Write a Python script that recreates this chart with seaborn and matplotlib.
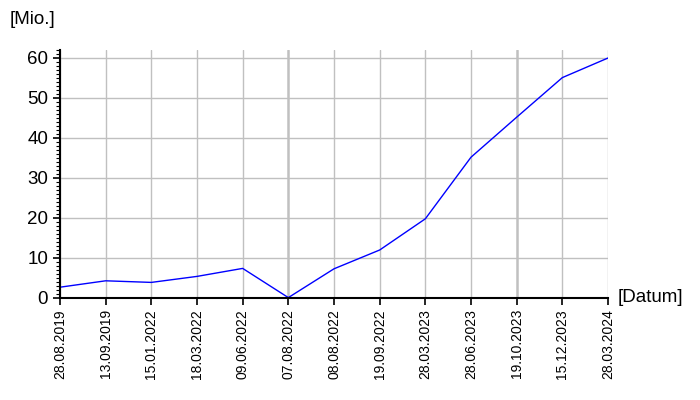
import matplotlib
matplotlib.use("Agg")
import matplotlib.pyplot as plt
import numpy as np
import pandas as pd
import seaborn as sns
from matplotlib.ticker import MultipleLocator

dates = ["28.08.2019", "13.09.2019", "15.01.2022", "18.03.2022", "09.06.2022",
         "07.08.2022", "08.08.2022", "19.09.2022", "28.03.2023", "28.06.2023",
         "19.10.2023", "15.12.2023", "28.03.2024"]
values = [2.7, 4.3, 3.9, 5.4, 7.4, 0.1, 7.3, 12.0, 19.8, 35.2, 45.2, 55.1, 60.0]

df = pd.DataFrame({"pos": np.arange(len(dates)), "value": values})

sns.set_style("white")
plt.rcParams["font.family"] = ["Liberation Sans", "DejaVu Sans"]
plt.rcParams["text.color"] = "black"
plt.rcParams["xtick.color"] = "black"
plt.rcParams["ytick.color"] = "black"

fig = plt.figure(figsize=(7, 4), dpi=100)
ax = fig.add_axes([0.0857, 0.255, 0.7829, 0.62])

sns.lineplot(data=df, x="pos", y="value", color="#0000ff", linewidth=1.0, ax=ax)

ax.set_xlim(0, len(dates) - 1)
ax.set_ylim(0, 62)
ax.set_xticks(df["pos"])
ax.set_xticklabels(dates, rotation=90, fontsize=10, color="black")
ax.set_yticks(np.arange(0, 61, 10))
ax.yaxis.set_minor_locator(MultipleLocator(1))
ax.tick_params(axis="y", labelsize=13.5, length=5, width=1.2, direction="out",
               left=True, labelcolor="black")
ax.tick_params(axis="y", which="minor", length=3, width=0.8, left=True)
ax.tick_params(axis="x", length=5, width=1.2, direction="out", bottom=True, pad=3,
               labelcolor="black")

ax.grid(True, color="#c0c0c0", linewidth=1.0)
for i in range(5, len(dates), 5):
    ax.get_xgridlines()[i].set_linewidth(1.8)
ax.set_axisbelow(True)

for s in ["top", "right"]:
    ax.spines[s].set_visible(False)
for s in ["left", "bottom"]:
    ax.spines[s].set_color("black")
    ax.spines[s].set_linewidth(1.5)

ax.set_xlabel("")
ax.set_ylabel("")
fig.text(0.014, 0.952, "[Mio.]", fontsize=13.5, va="center", ha="left")
fig.text(0.882, 0.255, "[Datum]", fontsize=13.5, va="center", ha="left")

fig.savefig("out.png", dpi=100)
